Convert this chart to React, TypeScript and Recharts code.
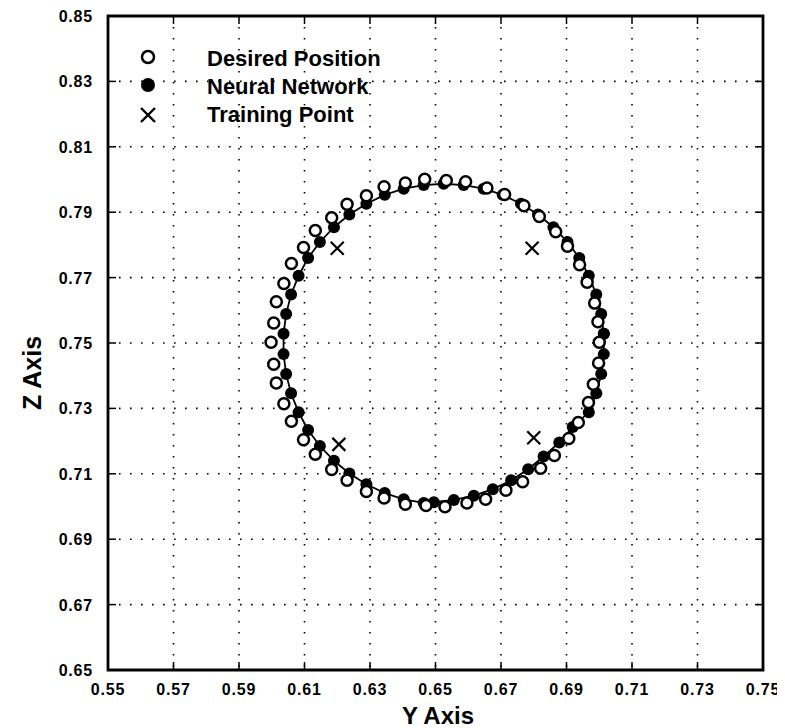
import React from "react";
import {
  ScatterChart,
  Scatter,
  XAxis,
  YAxis,
  CartesianGrid,
  ReferenceArea,
} from "recharts";

// axis ticks
const yAxisTicks = [0.55, 0.57, 0.59, 0.61, 0.63, 0.65, 0.67, 0.69, 0.71, 0.73, 0.75];
const zAxisTicks = [0.65, 0.67, 0.69, 0.71, 0.73, 0.75, 0.77, 0.79, 0.81, 0.83, 0.85];

// desired position (open circles)
const desiredY = [
  0.7, 0.6996, 0.6986, 0.6963, 0.694, 0.6903, 0.6867, 0.6817, 0.677, 0.6711, 0.6657, 0.6592, 0.6533,
  0.6467, 0.6408, 0.6343, 0.6289, 0.623, 0.6183, 0.6133, 0.6097, 0.606, 0.6037, 0.6014, 0.6006, 0.5998,
  0.6006, 0.6014, 0.6037, 0.606, 0.6097, 0.6133, 0.6183, 0.623, 0.6289, 0.6343, 0.6408, 0.6471,
  0.6529, 0.6596, 0.6653, 0.6715, 0.6766, 0.6821, 0.6863, 0.6907, 0.6936, 0.6967, 0.6982, 0.6998,
];
const desiredZ = [
  0.7502, 0.7565, 0.7622, 0.7686, 0.7739, 0.7796, 0.784, 0.7887, 0.792, 0.7954, 0.7974, 0.7993, 0.7997,
  0.8001, 0.7989, 0.7978, 0.795, 0.7924, 0.7883, 0.7844, 0.7792, 0.7743, 0.7682, 0.7626, 0.7561, 0.7502,
  0.7435, 0.7378, 0.7314, 0.7261, 0.7204, 0.716, 0.7113, 0.708, 0.7046, 0.7026, 0.7007, 0.7003,
  0.6999, 0.7011, 0.7022, 0.705, 0.7076, 0.7117, 0.7156, 0.7208, 0.7257, 0.7318, 0.7374, 0.7439,
];

// neural network output (filled circles, joined by line)
const nnY = [
  0.7014, 0.7006, 0.6991, 0.6968, 0.6939, 0.6903, 0.686, 0.6813, 0.6761, 0.6705, 0.6647, 0.6586, 0.6525,
  0.6464, 0.6403, 0.6345, 0.6289, 0.6237, 0.619, 0.6147, 0.6111, 0.6082, 0.6059, 0.6044, 0.6036,
  0.6036, 0.6044, 0.6059, 0.6082, 0.6111, 0.6147, 0.619, 0.6237, 0.6289, 0.6345, 0.6403, 0.6464,
  0.6495, 0.6556, 0.6617, 0.6675, 0.6731, 0.6783, 0.683, 0.6878, 0.6919, 0.6968, 0.6991, 0.7006, 0.7014,
];
const nnZ = [
  0.7528, 0.7589, 0.7648, 0.7706, 0.776, 0.7809, 0.7854, 0.7893, 0.7926, 0.7953, 0.7972, 0.7983, 0.7987,
  0.7983, 0.7972, 0.7953, 0.7926, 0.7893, 0.7854, 0.7809, 0.776, 0.7706, 0.7648, 0.7589, 0.7528,
  0.7466, 0.7405, 0.7346, 0.7288, 0.7234, 0.7185, 0.714, 0.7101, 0.7068, 0.7041, 0.7022, 0.7011,
  0.7013, 0.702, 0.7033, 0.7053, 0.708, 0.7114, 0.7153, 0.7196, 0.7243, 0.7288, 0.7346, 0.7405, 0.7466,
];

// training points (crosses)
const trainY = [0.62, 0.6795, 0.6205, 0.68];
const trainZ = [0.779, 0.779, 0.719, 0.721];

const desired = desiredY.map((y, i) => ({ y, z: desiredZ[i] }));
const network = nnY.map((y, i) => ({ y, z: nnZ[i] }));
network.push({ ...network[0] }); // close the loop
const training = trainY.map((y, i) => ({ y, z: trainZ[i] }));

const W = 777;
const H = 712;
const M = { top: 8, right: 22, left: 0, bottom: 0 };
const YW = 100;
const XH = 50;
const PLOT_W = W - M.left - M.right - YW;
const PLOT_H = H - M.top - M.bottom - XH;
const FONT = "'Liberation Sans', Arial, sans-serif";

const XTick = (props: any) => {
  const { x, y, payload } = props;
  const edge = payload.value === 0.55 || payload.value === 0.75;
  return (
    <g>
      {!edge && (
        <>
          <line x1={x} y1={y} x2={x} y2={y - 8} stroke="#000" strokeWidth={1.5} />
          <line x1={x} y1={y - PLOT_H} x2={x} y2={y - PLOT_H + 8} stroke="#000" strokeWidth={1.5} />
        </>
      )}
      <text x={x} y={y + 25} textAnchor="middle" fontSize={16} fontWeight="bold" fontFamily={FONT} letterSpacing={0.8} fill="#000">
        {payload.value.toFixed(2)}
      </text>
    </g>
  );
};

const YTick = (props: any) => {
  const { x, y, payload } = props;
  const edge = payload.value === 0.65 || payload.value === 0.85;
  return (
    <g>
      {!edge && (
        <>
          <line x1={x} y1={y} x2={x + 8} y2={y} stroke="#000" strokeWidth={1.5} />
          <line x1={x + PLOT_W} y1={y} x2={x + PLOT_W - 8} y2={y} stroke="#000" strokeWidth={1.5} />
        </>
      )}
      <text x={x - 15} y={y + 6} textAnchor="end" fontSize={16} fontWeight="bold" fontFamily={FONT} letterSpacing={0.8} fill="#000">
        {payload.value.toFixed(2)}
      </text>
    </g>
  );
};

const OpenDot = (props: any) => (
  <circle cx={props.cx} cy={props.cy} r={5.5} fill="#fff" stroke="#000" strokeWidth={2.5} />
);
const FilledDot = (props: any) => <circle cx={props.cx} cy={props.cy} r={6} fill="#000" />;
const Cross = (props: any) => {
  const { cx, cy } = props;
  const s = 6.5;
  return (
    <g stroke="#000" strokeWidth={2.2}>
      <line x1={cx - s} y1={cy - s} x2={cx + s} y2={cy + s} />
      <line x1={cx - s} y1={cy + s} x2={cx + s} y2={cy - s} />
    </g>
  );
};

export default function App() {
  return (
    <div style={{ position: "relative", width: W, height: 720, fontFamily: FONT }}>
      <ScatterChart width={W} height={H} margin={M}>
        <CartesianGrid stroke="#000" strokeWidth={1.6} strokeDasharray="1.6 9.4" />
        <XAxis
          type="number"
          dataKey="y"
          domain={[0.55, 0.75]}
          ticks={yAxisTicks}
          interval={0}
          height={XH}
          axisLine={false}
          tickLine={false}
          tickSize={0}
          tickMargin={0}
          tick={<XTick />}
        />
        <YAxis
          type="number"
          dataKey="z"
          domain={[0.65, 0.85]}
          ticks={zAxisTicks}
          interval={0}
          width={YW}
          axisLine={false}
          tickLine={false}
          tickSize={0}
          tickMargin={0}
          tick={<YTick />}
        />
        <ReferenceArea x1={0.55} x2={0.75} y1={0.65} y2={0.85} fill="none" stroke="#000" strokeWidth={2.8} />
        <Scatter
          data={network}
          shape={<FilledDot />}
          line={{ stroke: "#000", strokeWidth: 1.8 }}
          lineType="joint"
          isAnimationActive={false}
        />
        <Scatter data={desired} shape={<OpenDot />} isAnimationActive={false} />
        <Scatter data={training} shape={<Cross />} isAnimationActive={false} />
      </ScatterChart>
      <svg width={W} height={720} style={{ position: "absolute", left: 0, top: 0, pointerEvents: "none" }}>
        <g fontFamily={FONT} fontSize={22} fontWeight="bold" fill="#000">
          <circle cx={140} cy={49} r={6} fill="#fff" stroke="#000" strokeWidth={2.5} />
          <text x={199} y={58}>Desired Position</text>
          <circle cx={140} cy={77} r={7} fill="#000" />
          <text x={199} y={86}>Neural Network</text>
          <g stroke="#000" strokeWidth={2.4}>
            <line x1={133} y1={100} x2={147} y2={114} />
            <line x1={133} y1={114} x2={147} y2={100} />
          </g>
          <text x={199} y={114}>Training Point</text>
        </g>
        <text x={430} y={716} textAnchor="middle" fontFamily={FONT} fontSize={24} fontWeight="bold" fill="#000">
          Y Axis
        </text>
        <text
          x={24}
          y={365}
          textAnchor="middle"
          transform="rotate(-90 24 365)"
          dy={9}
          fontFamily={FONT}
          fontSize={25}
          fontWeight="bold"
          fill="#000"
        >
          Z Axis
        </text>
      </svg>
    </div>
  );
}
